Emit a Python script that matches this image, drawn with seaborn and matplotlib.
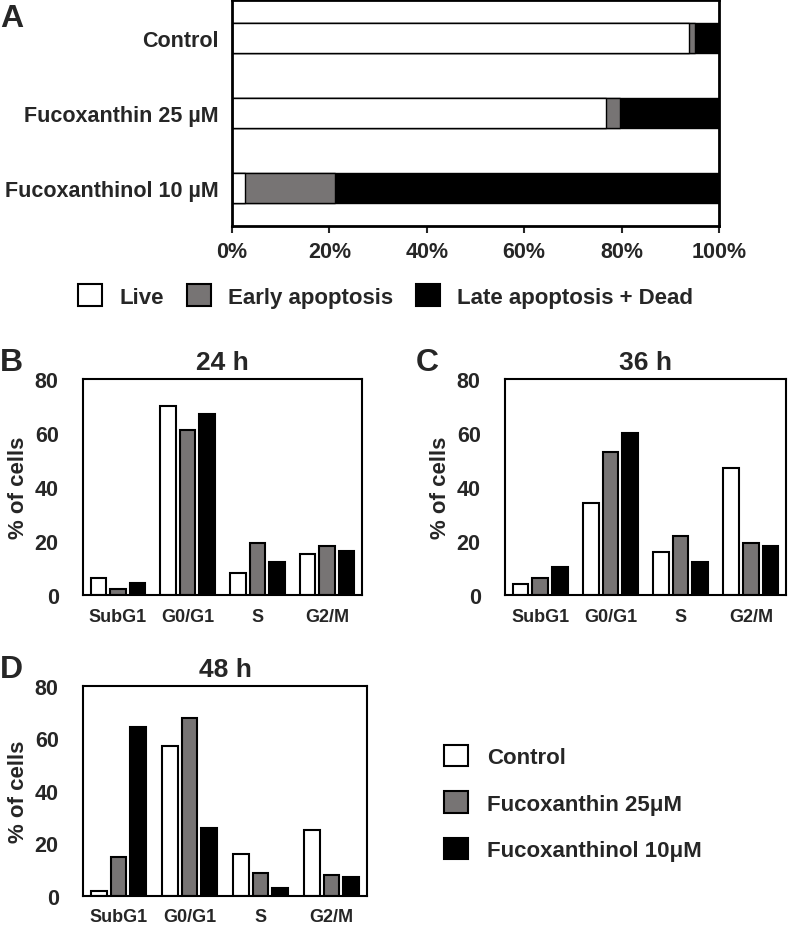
import matplotlib
matplotlib.use("Agg")
import matplotlib.pyplot as plt
from matplotlib.patches import Patch
import numpy as np
import pandas as pd
import seaborn as sns

# ---- panel A: annexin V / PI staining (% of cells) ----
treatments = ["Control", "Fucoxanthin 25 µM", "Fucoxanthinol 10 µM"]
live = [93.8, 76.8, 2.7]
early_apoptosis = [1.3, 2.8, 18.4]
late_dead = [4.9, 20.4, 78.9]
status_labels = ["Live", "Early apoptosis", "Late apoptosis + Dead"]

# ---- panels B-D: cell cycle distribution (% of cells) ----
phases = ["SubG1", "G0/G1", "S", "G2/M"]
groups = ["Control", "Fucoxanthin 25μM", "Fucoxanthinol 10μM"]

ctrl_24 = [6.2, 70.0, 8.0, 15.1]
fx_24 = [2.1, 61.0, 19.1, 18.1]
fxol_24 = [4.3, 67.2, 12.2, 16.3]

ctrl_36 = [4.0, 34.1, 16.1, 47.1]
fx_36 = [6.2, 53.0, 22.0, 19.1]
fxol_36 = [10.3, 60.1, 12.1, 18.2]

ctrl_48 = [1.8, 57.1, 15.9, 25.1]
fx_48 = [14.9, 68.0, 8.9, 8.0]
fxol_48 = [64.2, 25.9, 3.0, 7.1]

colors = ["white", "#777474", "black"]

sns.set_style("white")
plt.rcParams["font.family"] = ["Liberation Sans", "DejaVu Sans"]
plt.rcParams["font.weight"] = "bold"
plt.rcParams["axes.labelweight"] = "bold"
plt.rcParams["axes.titleweight"] = "bold"

fig = plt.figure(figsize=(7.88, 9.28), dpi=100)
W, H = 788.0, 928.0


def box(left, top, right, bottom):
    return [left / W, 1 - bottom / H, (right - left) / W, (bottom - top) / H]


# ---------- A ----------
axA = fig.add_axes(box(232, 1, 719, 227))
cum_early = [a + b for a, b in zip(live, early_apoptosis)]
cum_all = [a + b for a, b in zip(cum_early, late_dead)]
# stacked bars: draw the cumulative totals back to front
for vals, col in zip([cum_all, cum_early, live], colors[::-1]):
    sns.barplot(x=vals, y=treatments, orient="h", color=col, saturation=1,
                edgecolor="black", linewidth=1.0, width=0.4, ax=axA)
axA.set_xlim(0, 100)
axA.set_ylim(2.5, -0.5)
axA.set_xticks(np.arange(0, 101, 20))
axA.set_xticklabels([f"{t}%" for t in range(0, 101, 20)])
axA.tick_params(axis="x", bottom=True, length=5, width=1.5, pad=6, labelsize=15.5)
axA.tick_params(axis="y", left=False, pad=6, labelsize=15.5)
axA.set_xlabel("")
axA.set_ylabel("")
for s in axA.spines.values():
    s.set_linewidth(2)
    s.set_color("black")

handlesA = [Patch(facecolor=c, edgecolor="black", linewidth=1.5) for c in colors]
fig.legend(handlesA, status_labels, loc="center left",
           bbox_to_anchor=(78 / W, 1 - 297 / H), ncol=3, frameon=False,
           fontsize=16, handlelength=1.08, handleheight=1.08, handletextpad=0.8,
           columnspacing=1.0, borderpad=0, borderaxespad=0)


# ---------- B, C, D ----------
def cycle_panel(rect, ctrl, fx, fxol, title, xpad=6):
    ax = fig.add_axes(rect)
    df = pd.DataFrame({
        "phase": phases * 3,
        "group": [g for g in groups for _ in phases],
        "value": ctrl + fx + fxol,
    })
    sns.barplot(data=df, x="phase", y="value", hue="group", order=phases,
                hue_order=groups, palette=colors, saturation=1, width=0.84,
                gap=0.2, edgecolor="black", linewidth=1.5, legend=False, ax=ax)
    ax.set_ylim(0, 80)
    ax.set_xlim(-0.5, 3.5)
    ax.set_yticks([0, 20, 40, 60, 80])
    ax.tick_params(axis="y", left=False, pad=14, labelsize=15.5)
    ax.tick_params(axis="x", bottom=False, pad=xpad, labelsize=13)
    ax.set_xlabel("")
    ax.set_ylabel("% of cells", fontsize=16, labelpad=4)
    ax.set_title(title, fontsize=19, pad=7)
    for s in ax.spines.values():
        s.set_linewidth(1.5)
        s.set_color("black")
    return ax


cycle_panel(box(83, 380, 362, 596), ctrl_24, fx_24, fxol_24, "24 h")
cycle_panel(box(505, 380, 786, 596), ctrl_36, fx_36, fxol_36, "36 h")
cycle_panel(box(83, 687, 367, 897), ctrl_48, fx_48, fxol_48, "48 h", xpad=5)

handlesB = [Patch(facecolor=c, edgecolor="black", linewidth=1.5) for c in colors]
fig.legend(handlesB, groups, loc="center left",
           bbox_to_anchor=(444 / W, 1 - 804 / H), frameon=False, fontsize=16,
           handlelength=1.08, handleheight=1.08, handletextpad=0.85,
           labelspacing=1.05, borderpad=0, borderaxespad=0)

# panel letters
for letter, x, y in [("A", 0, 19), ("B", 0, 363), ("C", 416, 363), ("D", 0, 670)]:
    fig.text(x / W, 1 - y / H, letter, fontsize=23, fontweight="bold",
             ha="left", va="center")

fig.savefig("out.png", dpi=100)
